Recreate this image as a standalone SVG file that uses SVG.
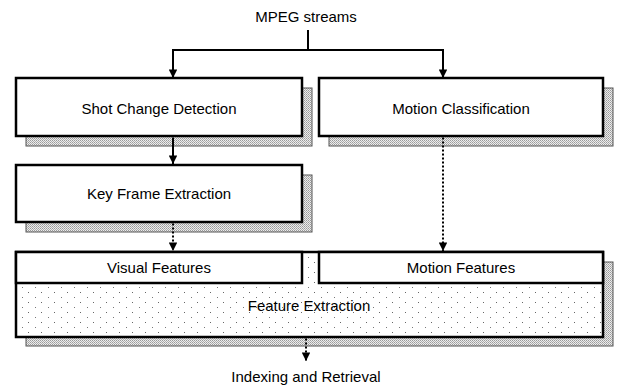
<svg xmlns="http://www.w3.org/2000/svg" width="617" height="387" viewBox="0 0 617 387">
  <defs>
    <!-- dithered grey used for drop shadows -->
    <pattern id="dither" width="2" height="2" patternUnits="userSpaceOnUse">
      <rect width="2" height="2" fill="#ececec"/>
      <rect x="0" y="0" width="1" height="1" fill="#9a9a9a"/>
      <rect x="1" y="1" width="1" height="1" fill="#b0b0b0"/>
    </pattern>
    <!-- sparse stipple for the feature extraction panel -->
    <pattern id="stipple" width="13" height="10" patternUnits="userSpaceOnUse">
      <rect width="13" height="10" fill="#fff"/>
      <rect x="2" y="2" width="1" height="1" fill="#666"/>
      <rect x="9" y="7" width="1" height="1" fill="#777"/>
    </pattern>
    <marker id="arrow" viewBox="0 0 10 10" refX="10" refY="5" markerWidth="4.6" markerHeight="4.2" markerUnits="strokeWidth" orient="auto">
      <path d="M0,0 L10,5 L0,10 Z" fill="#000"/>
    </marker>
  </defs>
  <style>
    .box { fill: #fff; stroke: #000; stroke-width: 2.5; }
    .shadow { fill: url(#dither); stroke: #555; stroke-width: 1; }
    .label { font-family: "Liberation Sans", Arial, sans-serif; font-size: 15px; fill: #000; text-anchor: middle; }
    .solid { fill: none; stroke: #000; stroke-width: 2; }
    .dotted { fill: none; stroke: #000; stroke-width: 2; stroke-dasharray: 2 2; }
  </style>

  <text id="source" class="label" x="306" y="22">MPEG streams</text>

  <g id="shot-change-detection">
    <rect class="shadow" x="26" y="88" width="286" height="58"/>
    <rect class="box" x="16" y="78" width="286" height="58"/>
    <text class="label" x="159" y="114">Shot Change Detection</text>
  </g>

  <g id="motion-classification">
    <rect class="shadow" x="329" y="88" width="284" height="58"/>
    <rect class="box" x="319" y="78" width="284" height="58"/>
    <text class="label" x="461" y="114">Motion Classification</text>
  </g>

  <g id="key-frame-extraction">
    <rect class="shadow" x="26" y="175" width="286" height="57"/>
    <rect class="box" x="16" y="165" width="286" height="57"/>
    <text class="label" x="159" y="199">Key Frame Extraction</text>
  </g>

  <g id="feature-extraction">
    <rect class="shadow" x="26" y="262" width="587" height="84"/>
    <rect class="box" x="16" y="252" width="587" height="85" style="fill:url(#stipple)"/>
    <text class="label" x="309" y="311">Feature Extraction</text>
  </g>

  <g id="visual-features">
    <rect class="box" x="16" y="252" width="286" height="31"/>
    <text class="label" x="159" y="273">Visual Features</text>
  </g>

  <g id="motion-features">
    <rect class="box" x="319" y="252" width="284" height="31"/>
    <text class="label" x="461" y="273">Motion Features</text>
  </g>

  <!-- connectors are drawn last so they stay visible across the shadows -->
  <g id="connectors">
    <path class="solid" d="M308,30 V50"/>
    <path class="solid" d="M173,50 H443"/>
    <path class="solid" d="M173,49 V78" marker-end="url(#arrow)"/>
    <path class="solid" d="M443,49 V78" marker-end="url(#arrow)"/>
    <path class="solid" d="M173,137.5 V164" marker-end="url(#arrow)"/>
    <path class="dotted" d="M173,223.5 V251" marker-end="url(#arrow)"/>
    <path class="dotted" d="M443,137.5 V251" marker-end="url(#arrow)"/>
    <path class="dotted" d="M306,338.5 V361" marker-end="url(#arrow)"/>
  </g>

  <text id="sink" class="label" x="306" y="382">Indexing and Retrieval</text>
</svg>
